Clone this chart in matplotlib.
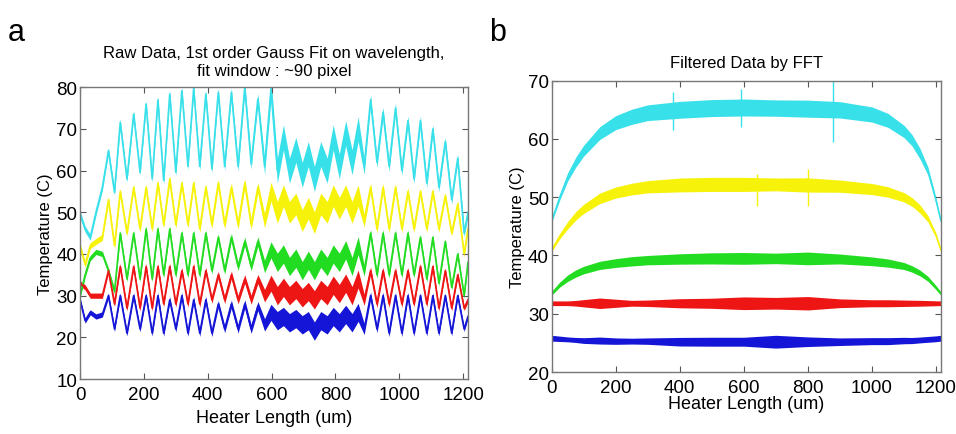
import matplotlib.pyplot as plt
import numpy as np

plt.rcParams['font.family'] = ['Liberation Sans', 'DejaVu Sans']

# ---- panel a: raw data, extrema ----
x_a = [0, 16, 32, 50, 70, 89, 108, 126, 147, 168, 188, 207, 226, 244, 262, 281,
       300, 319, 338, 356, 375, 394, 413, 433, 453, 474, 495, 516, 536, 557, 578,
       598, 618, 637, 656, 676, 696, 715, 734, 754, 774, 793, 812, 832, 852, 871,
       890, 910, 930, 949, 968, 988, 1008, 1027, 1046, 1066, 1086, 1105, 1124,
       1144, 1164, 1183, 1203, 1215]

cyan_a = [49.6, 46, 44, 50, 56, 64.8, 54.8, 71.6, 58, 73.6, 59.6, 76, 58, 77, 57.6,
          78.4, 59.6, 79.2, 61, 79.8, 61, 78.4, 60.4, 78.8, 61, 78.8, 61, 80, 61.6,
          77.2, 61, 79.6, 60, 68, 60, 65, 59, 64, 58, 64, 60, 68, 61, 69, 62, 70,
          61, 77, 62, 74, 61, 75, 60, 72, 58, 72, 57, 70, 56, 67, 53, 63, 45, 50]
yellow_a = [42, 37.5, 42, 43, 44, 53, 42, 55, 45, 56, 46, 56, 46, 57, 47, 58, 47,
            57, 47, 57, 46, 56, 47, 57, 47, 56, 47, 57, 47, 56, 48, 55, 50, 54, 50,
            52, 48, 51, 47.5, 52, 50, 54, 51, 54, 50, 54, 48, 56, 46, 56, 46, 56, 46,
            55, 46, 55, 46, 55, 46, 54, 45, 52, 40, 46]
green_a = [30, 35, 39, 40.5, 40, 36, 31, 45, 34, 45, 34, 46, 34, 46, 35, 46, 35,
           45, 35, 45, 35, 45, 36, 44, 36, 44, 37, 43, 37, 43, 37, 41, 38, 40, 37,
           39, 36, 38.5, 36, 39, 37, 40, 38, 41, 37, 42, 36, 45, 35, 45, 35, 45, 35,
           45, 35, 44, 34, 44, 33, 43, 32, 40, 30, 38]
red_a = [33, 32, 30, 30, 30, 36, 28, 37, 27, 37, 27, 37, 27, 37, 28, 37, 28, 36,
         28, 37, 28, 36, 29, 35, 29, 35, 29, 34, 29, 34, 30, 33, 30, 32, 30, 31.5,
         29.5, 31, 29, 31.5, 30, 32.5, 30.5, 33, 30, 34, 29, 36, 28, 36, 28, 36, 28, 36,
         28, 37, 28, 37, 27, 36, 27, 35, 27, 29]
blue_a = [29, 24, 26, 25, 25.5, 30, 22, 30, 21, 30, 22, 30, 21, 30, 21, 29, 22, 30,
          21, 29, 21, 29, 21, 28, 22, 28, 22, 28, 22, 27.5, 23, 26, 24, 25, 23.5,
          24.5, 23, 24, 21.5, 24, 23, 25, 23.5, 25.5, 23.5, 26, 22, 30, 22, 30, 21, 30,
          21, 30, 21, 30, 21, 30, 21, 30, 21, 30, 22, 25]

# noise half-width of each trace (thickness of the fuzzy band)
noise_x_a = [0, 400, 560, 610, 870, 900, 1215]
cyan_n = [0.7, 0.9, 1.3, 3.0, 3.0, 1.3, 0.9]
yellow_n = [0.7, 0.9, 1.2, 2.6, 2.6, 1.0, 0.7]
green_n = [0.6, 0.8, 1.1, 2.2, 2.2, 0.9, 0.6]
red_n = [0.6, 0.8, 1.1, 2.2, 2.2, 0.9, 0.6]
blue_n = [0.6, 0.8, 1.1, 2.2, 2.2, 0.9, 0.6]

# ---- panel b: filtered data ----
x_b = [0, 25, 50, 75, 100, 150, 200, 250, 300, 400, 500, 600, 700, 800, 900,
       1000, 1050, 1100, 1125, 1150, 1175, 1200, 1215]
cyan_b = [46, 50, 53.5, 56, 58, 61, 62.8, 63.8, 64.5, 65, 65.3, 65.4, 65.3, 65.2,
          65, 64.2, 63.2, 61.3, 59.8, 57.5, 54.5, 49.5, 46]
yellow_b = [41, 43.3, 45.2, 46.8, 48, 49.8, 50.8, 51.4, 51.8, 52.1, 52.2, 52.2,
            52.2, 52.1, 51.9, 51.4, 50.9, 50, 49.2, 48, 46.3, 43.5, 41]
green_b = [33.5, 35, 36.1, 36.9, 37.5, 38.3, 38.7, 39, 39.2, 39.4, 39.5, 39.5,
           39.5, 39.5, 39.4, 39, 38.7, 38.2, 37.7, 37, 36, 34.5, 33.5]
red_b = [31.8, 31.8, 31.8, 31.8, 31.8, 31.8, 31.8, 31.8, 31.8, 31.8, 31.8, 31.8,
         31.8, 31.8, 31.8, 31.8, 31.8, 31.8, 31.8, 31.8, 31.8, 31.8, 31.8]
blue_b = [25.8, 25.7, 25.6, 25.5, 25.4, 25.4, 25.3, 25.3, 25.3, 25.2, 25.2, 25.2,
          25.2, 25.2, 25.2, 25.3, 25.3, 25.4, 25.4, 25.5, 25.6, 25.7, 25.8]

noise_x_b = [0, 60, 150, 250, 350, 460, 550, 640, 700, 770, 850, 950, 1050, 1150, 1215]
cyan_nb = [0.3, 0.8, 1.1, 1.3, 1.4, 1.5, 1.4, 1.5, 1.4, 1.5, 1.4, 1.4, 1.2, 0.9, 0.4]
yellow_nb = [0.3, 0.7, 0.9, 1.0, 1.1, 1.3, 1.1, 1.3, 1.1, 1.3, 1.1, 1.0, 0.9, 0.7, 0.3]
green_nb = [0.3, 0.6, 0.7, 0.8, 0.8, 1.0, 0.9, 1.1, 0.9, 1.2, 0.9, 0.8, 0.7, 0.5, 0.3]
red_nb = [0.4, 0.4, 0.9, 0.5, 0.6, 1.0, 0.7, 1.4, 1.0, 1.3, 0.9, 0.6, 0.6, 0.5, 0.4]
blue_nb = [0.5, 0.4, 0.6, 0.5, 0.6, 0.9, 0.6, 0.9, 1.1, 0.9, 0.7, 0.6, 0.6, 0.5, 0.5]

# isolated spikes in the filtered cyan / yellow traces
spike_x = [378, 590, 880, 800, 640]
spike_lo = [61.5, 62, 59.5, 48.5, 48.5]
spike_hi = [68, 68.5, 70, 54.8, 54]

colors = ['#38e0ea', '#f6f20a', '#22dc22', '#ee1515', '#1515d8']


def style(ax):
    ax.tick_params(direction='in', top=True, right=True, labelsize=13.5, length=4,
                   color='#555555', pad=2)
    ax.tick_params(axis='x', pad=5)
    for s in ax.spines.values():
        s.set_color('#777777')
        s.set_linewidth(1.0)


fig = plt.figure(figsize=(9.56, 4.35), dpi=100)

ax1 = fig.add_axes([0.0837, 0.1264, 0.4058, 0.6706])
for y, n, c in zip([cyan_a, yellow_a, green_a, red_a, blue_a],
                   [cyan_n, yellow_n, green_n, red_n, blue_n], colors):
    w = np.interp(x_a, noise_x_a, n)
    y = np.array(y)
    ax1.fill_between(x_a, y - w, y + w, color=c, lw=0)
    ax1.plot(x_a, y, color=c, lw=1.2)
ax1.set_xlim(0, 1215)
ax1.set_ylim(10, 80)
ax1.set_xticks(range(0, 1201, 200))
ax1.set_yticks(range(10, 81, 10))
ax1.set_xlabel('Heater Length (um)', fontsize=13, labelpad=4)
ax1.set_ylabel('Temperature (C)', fontsize=12, labelpad=2)
ax1.set_title('Raw Data, 1st order Gauss Fit on wavelength,\nfit window : ~90 pixel',
              fontsize=12, pad=9, linespacing=1.2)
style(ax1)

ax2 = fig.add_axes([0.5771, 0.1425, 0.4069, 0.6697])
for y, n, c in zip([cyan_b, yellow_b, green_b, red_b, blue_b],
                   [cyan_nb, yellow_nb, green_nb, red_nb, blue_nb], colors):
    w = np.interp(x_b, noise_x_b, n)
    y = np.array(y)
    ax2.fill_between(x_b, y - w, y + w, color=c, lw=0)
    ax2.plot(x_b, y, color=c, lw=1.0)
ax2.vlines(spike_x[:3], spike_lo[:3], spike_hi[:3], color=colors[0], lw=1)
ax2.vlines(spike_x[3:], spike_lo[3:], spike_hi[3:], color=colors[1], lw=1)
ax2.set_xlim(0, 1215)
ax2.set_ylim(20, 70)
ax2.set_xticks(range(0, 1201, 200))
ax2.set_yticks(range(20, 71, 10))
ax2.set_xlabel('Heater Length (um)', fontsize=13, labelpad=-1)
ax2.set_ylabel('Temperature (C)', fontsize=12, labelpad=2)
ax2.set_title('Filtered Data by FFT', fontsize=12, pad=10)
style(ax2)

fig.text(0.008, 0.905, 'a', fontsize=22)
fig.text(0.512, 0.905, 'b', fontsize=22)

fig.savefig('out.png', dpi=100)
